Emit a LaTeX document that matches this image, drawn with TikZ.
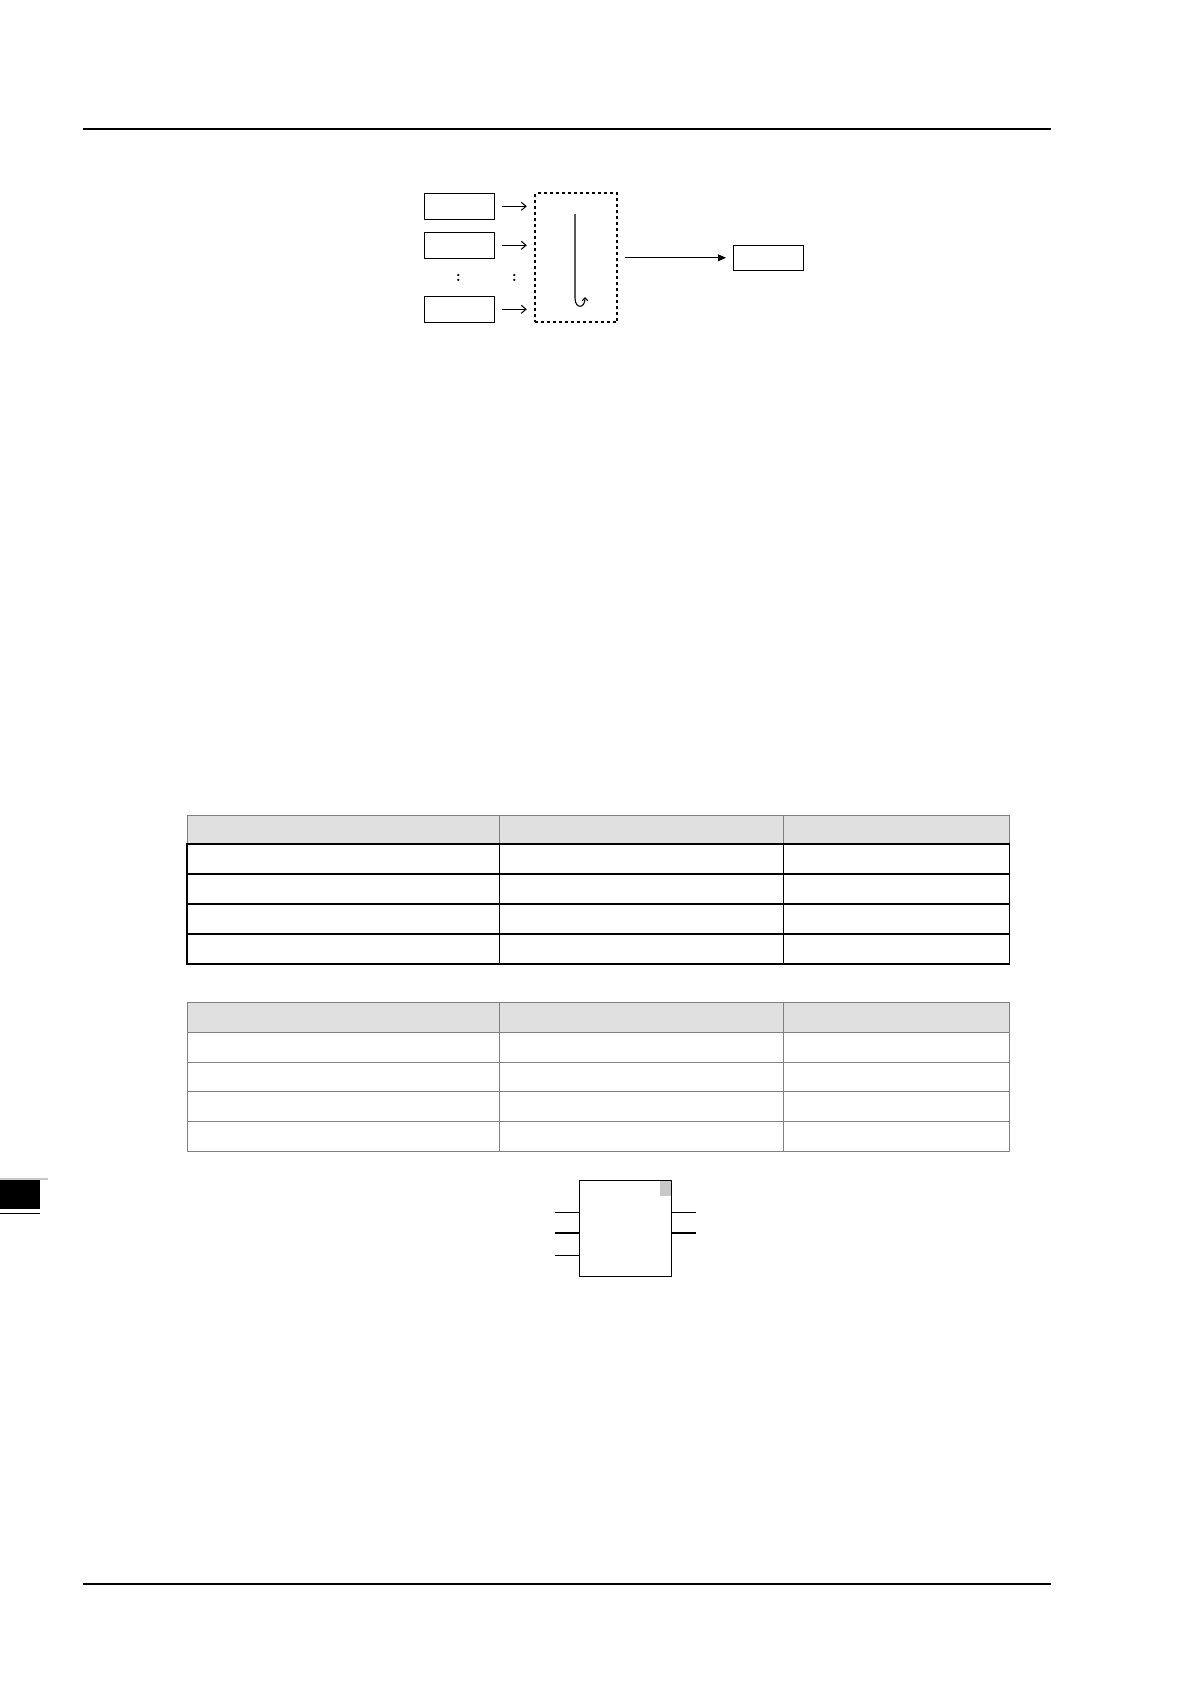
\documentclass[tikz,border=0pt]{standalone}
\usetikzlibrary{arrows.meta}
\definecolor{hdrfill}{HTML}{E0E0E0}
\definecolor{hdrline}{HTML}{808080}
\definecolor{cornergray}{HTML}{C8C8C8}
\begin{document}
\begin{tikzpicture}[x=0.75pt,y=-0.75pt,
  inbox/.style={draw,line width=0.8pt,minimum width=52.5pt,minimum height=19.5pt,inner sep=0pt},
  outbox/.style={draw,line width=0.8pt,minimum width=52.5pt,minimum height=18.75pt,inner sep=0pt},
  dotbox/.style={draw,line width=1.4pt,dash pattern=on 2.2pt off 2.3pt,minimum width=61.7pt,minimum height=96.75pt,inner sep=0pt},
  inarrow/.style={line width=0.8pt,-{Straight Barb[length=3.5pt,width=6pt]},shorten <=5pt,shorten >=5.5pt},
  outarrow/.style={line width=0.8pt,-{Triangle[length=6pt,width=5pt]},shorten <=5.2pt,shorten >=5pt},
  rule/.style={line width=1.1pt},
  tblgray/.style={draw=hdrline,line width=0.75pt},
  tblblack/.style={draw=black,line width=1pt},
  fbbox/.style={draw,line width=0.9pt,minimum width=69pt,minimum height=72pt,inner sep=0pt},
  pin/.style={line width=0.9pt},
  colon/.style={inner sep=0pt,font=\fontsize{12}{12}\selectfont\bfseries}
]
\useasboundingbox (0,0) rectangle (1191,1684);

% page rules
\coordinate (topL) at (83,129);
\coordinate (topR) at (1051,129);
\coordinate (botL) at (83,1584);
\coordinate (botR) at (1051,1584);
\draw[rule] (topL) -- (topR);
\draw[rule] (botL) -- (botR);

% top diagram
\node[inbox] (b1) at (459.3,206.3) {};
\node[inbox] (b2) at (459.3,245.3) {};
\node[inbox] (b3) at (459.3,309.3) {};
\node[dotbox] (db) at (576.2,257.8) {};
\node[outbox] (ob) at (768.3,257.8) {};
\node[colon] (c1) at (458.3,277.5) {:};
\node[colon] (c2) at (514.3,277.5) {:};
\draw[inarrow] (b1.east) -- (b1.east -| db.west);
\draw[inarrow] (b2.east) -- (b2.east -| db.west);
\draw[inarrow] (b3.east) -- (b3.east -| db.west);
\draw[outarrow] (db.east |- ob.west) -- (ob.west);
\coordinate (hookTop) at (575,214);
\coordinate (hookBot) at (575,298);
\coordinate (hookEnd) at (585,297);
\draw[line width=0.8pt,-{Straight Barb[length=2.2pt,width=4pt]}] (hookTop) -- (hookBot) .. controls (575,309) and (585,309) .. (hookEnd);

% table 1
\fill[hdrfill] (187,815) rectangle (1009.3,844);
\draw[tblgray] (187,844) -- (187,815) -- (1009.3,815) -- (1009.3,844);
\draw[tblgray] (499.3,815) -- (499.3,844);
\draw[tblgray] (783.7,815) -- (783.7,844);
\draw[tblblack] (187,844) rectangle (1009.3,964);
\foreach \yy in {874,904,934} \draw[tblblack] (187,\yy) -- (1009.3,\yy);
\draw[tblblack] (499.3,844) -- (499.3,964);
\draw[tblblack] (783.7,844) -- (783.7,964);

% table 2
\fill[hdrfill] (187,1002.5) rectangle (1009.3,1032.3);
\draw[tblgray] (187,1002.5) rectangle (1009.3,1151);
\foreach \yy in {1032.3,1062,1091.5,1121.3} \draw[tblgray] (187,\yy) -- (1009.3,\yy);
\draw[tblgray] (499.3,1002.5) -- (499.3,1151);
\draw[tblgray] (783.7,1002.5) -- (783.7,1151);

% function block
\node[fbbox] (fb) at (625.3,1228.3) {};
\fill[cornergray] (660,1180.8) rectangle (670.8,1195.7);
\coordinate (pinL1) at (555,1212.3);
\coordinate (pinL2) at (555,1233);
\coordinate (pinL3) at (555,1255.3);
\coordinate (pinR1) at (695.7,1212.3);
\coordinate (pinR2) at (695.7,1233);
\draw[pin] (pinL1) -- (pinL1 -| fb.west);
\draw[pin] (pinL2) -- (pinL2 -| fb.west);
\draw[pin] (pinL3) -- (pinL3 -| fb.west);
\draw[pin] (pinR1 -| fb.east) -- (pinR1);
\draw[pin] (pinR2 -| fb.east) -- (pinR2);

% side tab
\fill[black] (0,1180) rectangle (40,1209.3);
\draw[cornergray,line width=1pt] (0,1179) -- (48,1179);
\draw[line width=1pt] (0,1213.3) -- (40,1213.3);
\end{tikzpicture}
\end{document}
